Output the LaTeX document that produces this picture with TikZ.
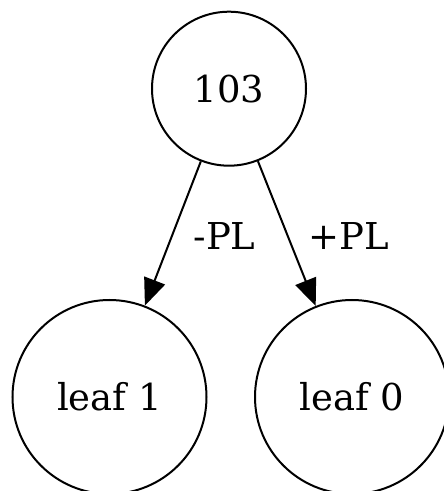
\documentclass[tikz,border=0pt]{standalone}
\usepackage{fontspec}
\setmainfont{DejaVu Serif}
\usetikzlibrary{arrows.meta}
\begin{document}
\begin{tikzpicture}[x=1pt,y=1pt,
  vertex/.style={draw,circle,line width=2pt,inner sep=0pt,font=\fontsize{37}{42}\selectfont},
  edge/.style={line width=2pt,-{Triangle[length=27pt,width=22pt]}},
  elabel/.style={inner sep=0pt,font=\fontsize{37}{42}\selectfont}]
\useasboundingbox (0,0) rectangle (444,491);
\node[vertex,minimum size=154pt] (root) at (229,402.3) {103};
\node[vertex,minimum size=194pt] (l1) at (109.5,94) {leaf 1};
\node[vertex,minimum size=194pt] (l0) at (352,94) {leaf 0};
\draw[edge] (root) -- (l1);
\draw[edge] (root) -- (l0);
\node[elabel] (lm) at (224.5,255) {-PL};
\node[elabel] (lp) at (348.5,255) {+PL};
\end{tikzpicture}
\end{document}
